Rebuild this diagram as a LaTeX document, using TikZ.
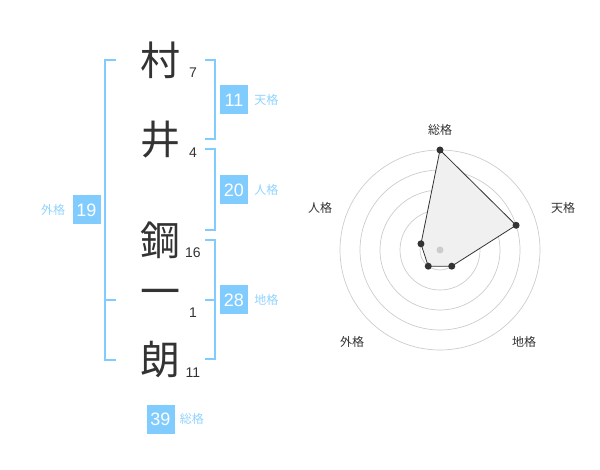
\documentclass[tikz,border=0pt]{standalone}
\usepackage{fontspec}
\setmainfont{Liberation Sans}
\newfontfamily\jp{Noto Sans CJK JP}
\usetikzlibrary{calc,positioning}
\definecolor{kakublue}{HTML}{80CCFF}
\definecolor{kakulabel}{HTML}{8FD3FF}
\definecolor{ink}{HTML}{333333}
\tikzset{>=stealth,
  kanji/.style={font=\jp\fontsize{40}{40}\selectfont, text=ink, inner sep=0pt},
  strokes/.style={font=\fontsize{14}{14}\selectfont, text=ink, inner sep=0pt},
  kakubox/.style={fill=kakublue, text=white, font=\fontsize{18}{18}\selectfont, minimum width=28pt, minimum height=29pt, inner sep=0pt},
  kakuname/.style={font=\jp\fontsize{12}{12}\selectfont, text=kakulabel, inner sep=0pt},
  bracket/.style={draw=kakublue, line width=1.8pt},
  ring/.style={draw=black!20, line width=0.7pt},
  axisname/.style={font=\jp\fontsize{12}{12}\selectfont, text=ink, inner sep=0pt},
  dot/.style={circle, fill=ink, inner sep=0pt, minimum size=7pt}
}

\begin{document}
\begin{tikzpicture}[x=1pt,y=-1pt]
\useasboundingbox (0,0) rectangle (600,470);
% name, one character per line
\node[kanji] (c1) at (160,60) {村};
\node[kanji] (c2) at (160,140) {井};
\node[kanji] (c3) at (160,240) {鋼};
\node[kanji] (c4) at (160,298) {一};
\node[kanji] (c5) at (160,360) {朗};
\foreach \n/\y/\s in {1/73/7, 2/153/4, 3/253/16, 4/313/1, 5/373/11}
  \node[strokes] (s\n) at (193,\y) {\s};
% brackets
\draw[bracket] (116,60) -- (105,60) -- (105,360) -- (116,360);
\draw[bracket] (105,300) -- (116,300);
\draw[bracket] (205,60) -- (215,60) -- (215,139) -- (205,139);
\draw[bracket] (205,149) -- (215,149) -- (215,230) -- (205,230);
\draw[bracket] (205,240) -- (215,240) -- (215,359) -- (205,359);
\draw[bracket] (205,300) -- (215,300);
% kaku values
\node[kakubox] (ten) at (234,100) {11};
\node[kakuname, right=6pt of ten] (tenname) {天格};
\node[kakubox] (jin) at (234,190) {20};
\node[kakuname, right=6pt of jin] (jinname) {人格};
\node[kakubox] (chi) at (234,300) {28};
\node[kakuname, right=6pt of chi] (chiname) {地格};
\node[kakubox] (gai) at (86.5,210) {19};
\node[kakuname, left=7pt of gai] (gainame) {外格};
\node[kakubox] (sou) at (160.5,419) {39};
\node[kakuname, right=5pt of sou] (souname) {総格};
% radar
\coordinate (cen) at (440,250);
\foreach \r in {20,40,60,80,100}
  \draw[ring] (cen) circle (\r pt);
\foreach \k/\a/\r in {sou/90/100, ten/18/80, chi/-54/20, gai/-126/20, jin/162/20}
  \coordinate (r\k) at ($(cen)+(\a:\r pt)$);
\filldraw[fill=black!6, draw=ink, line width=0.8pt] (rsou) -- (rten) -- (rchi) -- (rgai) -- (rjin) -- cycle;
\fill[black!20] (cen) circle (3.5pt);
\foreach \k in {sou,ten,chi,gai,jin}
  \node[dot] (d\k) at (r\k) {};
\node[axisname] (asou) at (440,130) {総格};
\node[axisname] (aten) at (563,208) {天格};
\node[axisname] (ajin) at (320,208) {人格};
\node[axisname] (agai) at (352,342) {外格};
\node[axisname] (achi) at (524,342) {地格};
\end{tikzpicture}
\end{document}
